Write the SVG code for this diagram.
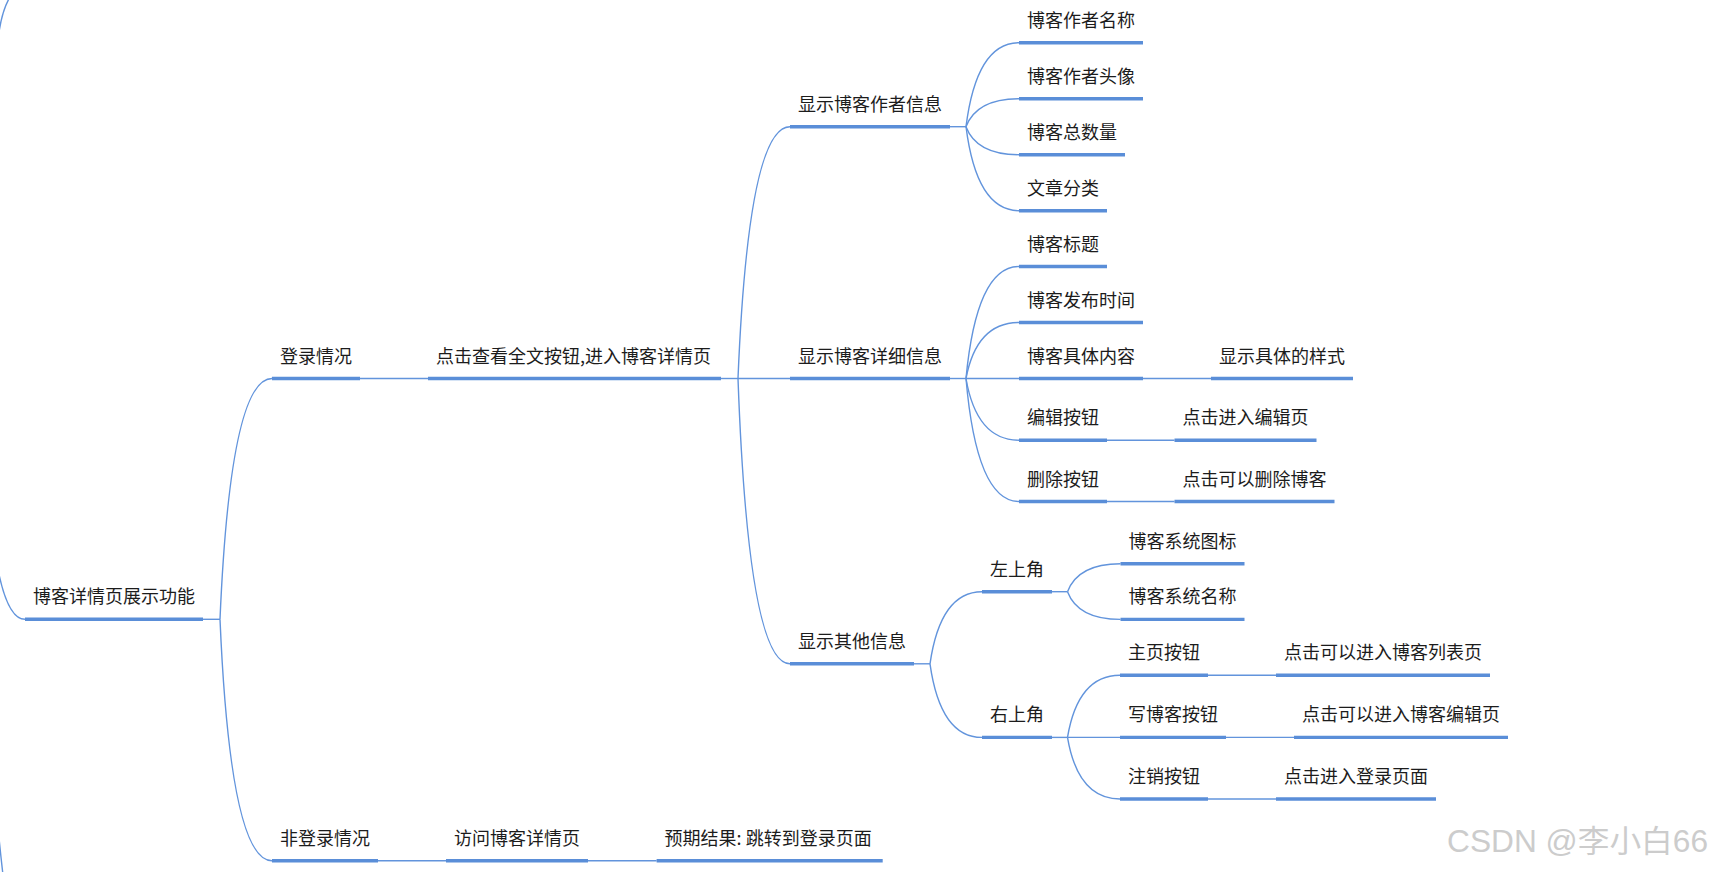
<svg xmlns="http://www.w3.org/2000/svg" width="1713" height="872" viewBox="0 0 1713 872">
<style>
  .bg{fill:#ffffff}
  .t{font-family:"Noto Sans CJK SC","Liberation Sans",sans-serif;font-size:18px;fill:#1c1c1c}
  .u{stroke:#5a8ed8;stroke-width:3.4;fill:none}
  .c{stroke:#6294dc;stroke-width:1.4;fill:none}
  .wm{font-family:"Liberation Sans","Noto Sans CJK SC",sans-serif;font-size:31px;fill:#cccccc}
</style>
<rect class="bg" x="0" y="0" width="1713" height="872"/>
<g id="connectors">
  <path class="c" d="M-6,545 Q4,619 25,619.3"/>
  <path class="c" d="M-2,40 Q1,12 10,-3"/>
  <path class="c" d="M-1,838 Q1,858 3,875"/>
  <path class="c" d="M203,619.3 H220"/>
  <path class="c" d="M220,619.3 Q230.4,378.5 272,378.5"/>
  <path class="c" d="M220,619.3 Q230.4,860.7 272,860.7"/>
  <path class="c" d="M360,378.5 H428"/>
  <path class="c" d="M721,378.5 H738"/>
  <path class="c" d="M378,860.7 H446"/>
  <path class="c" d="M588,860.7 H656.6"/>
  <path class="c" d="M738,378.5 Q748.4,126.7 790,126.7"/>
  <path class="c" d="M738,378.5 H790"/>
  <path class="c" d="M738,378.5 Q748.4,663.8 790,663.8"/>
  <path class="c" d="M950,126.7 H966"/>
  <path class="c" d="M966,126.7 Q976.6,42.7 1019,42.7"/>
  <path class="c" d="M966,126.7 Q976.6,98.7 1019,98.7"/>
  <path class="c" d="M966,126.7 Q976.6,154.7 1019,154.7"/>
  <path class="c" d="M966,126.7 Q976.6,210.7 1019,210.7"/>
  <path class="c" d="M950,378.5 H966"/>
  <path class="c" d="M966,378.5 Q976.6,266.5 1019,266.5"/>
  <path class="c" d="M966,378.5 Q976.6,322.5 1019,322.5"/>
  <path class="c" d="M966,378.5 H1019"/>
  <path class="c" d="M966,378.5 Q976.6,440.2 1019,440.2"/>
  <path class="c" d="M966,378.5 Q976.6,501.5 1019,501.5"/>
  <path class="c" d="M1143,378.5 H1211"/>
  <path class="c" d="M1107,440.2 H1174.5"/>
  <path class="c" d="M1107,501.5 H1174.5"/>
  <path class="c" d="M914,663.8 H930"/>
  <path class="c" d="M930,663.8 Q940.4,591.7 982,591.7"/>
  <path class="c" d="M930,663.8 Q940.4,737.4 982,737.4"/>
  <path class="c" d="M1052,591.7 H1067.5"/>
  <path class="c" d="M1067.5,591.7 Q1078.1,563.7 1120.5,563.7"/>
  <path class="c" d="M1067.5,591.7 Q1078.1,619.4 1120.5,619.4"/>
  <path class="c" d="M1052,737.4 H1067.5"/>
  <path class="c" d="M1067.5,737.4 Q1078,675.3 1120,675.3"/>
  <path class="c" d="M1067.5,737.4 H1120"/>
  <path class="c" d="M1067.5,737.4 Q1078,799 1120,799"/>
  <path class="c" d="M1208,675.3 H1276"/>
  <path class="c" d="M1226,737.4 H1294"/>
  <path class="c" d="M1208,799 H1276"/>
</g>
<g id="root"><text class="t" x="33" y="603.3">博客详情页展示功能</text><path class="u" d="M25,619.3 H203"/></g>
<g id="n-login"><text class="t" x="280" y="362.5">登录情况</text><path class="u" d="M272,378.5 H360"/></g>
<g id="n-click"><text class="t" x="436" y="362.5">点击查看全文按钮,进入博客详情页</text><path class="u" d="M428,378.5 H721"/></g>
<g id="n-nologin"><text class="t" x="280" y="844.7">非登录情况</text><path class="u" d="M272,860.7 H378"/></g>
<g id="n-visit"><text class="t" x="454" y="844.7">访问博客详情页</text><path class="u" d="M446,860.7 H588"/></g>
<g id="n-expect"><text class="t" x="664.6" y="844.7">预期结果: 跳转到登录页面</text><path class="u" d="M656.6,860.7 H882.7"/></g>
<g id="n-author"><text class="t" x="798" y="110.7">显示博客作者信息</text><path class="u" d="M790,126.7 H950"/></g>
<g id="n-detail"><text class="t" x="798" y="362.5">显示博客详细信息</text><path class="u" d="M790,378.5 H950"/></g>
<g id="n-other"><text class="t" x="798" y="647.8">显示其他信息</text><path class="u" d="M790,663.8 H914"/></g>
<g id="n-a1"><text class="t" x="1027" y="26.7">博客作者名称</text><path class="u" d="M1019,42.7 H1143"/></g>
<g id="n-a2"><text class="t" x="1027" y="82.7">博客作者头像</text><path class="u" d="M1019,98.7 H1143"/></g>
<g id="n-a3"><text class="t" x="1027" y="138.7">博客总数量</text><path class="u" d="M1019,154.7 H1125"/></g>
<g id="n-a4"><text class="t" x="1027" y="194.7">文章分类</text><path class="u" d="M1019,210.7 H1107"/></g>
<g id="n-d1"><text class="t" x="1027" y="250.5">博客标题</text><path class="u" d="M1019,266.5 H1107"/></g>
<g id="n-d2"><text class="t" x="1027" y="306.5">博客发布时间</text><path class="u" d="M1019,322.5 H1143"/></g>
<g id="n-d3"><text class="t" x="1027" y="362.5">博客具体内容</text><path class="u" d="M1019,378.5 H1143"/></g>
<g id="n-d3a"><text class="t" x="1219" y="362.5">显示具体的样式</text><path class="u" d="M1211,378.5 H1353"/></g>
<g id="n-d4"><text class="t" x="1027" y="424.2">编辑按钮</text><path class="u" d="M1019,440.2 H1107"/></g>
<g id="n-d4a"><text class="t" x="1182.5" y="424.2">点击进入编辑页</text><path class="u" d="M1174.5,440.2 H1316.5"/></g>
<g id="n-d5"><text class="t" x="1027" y="485.5">删除按钮</text><path class="u" d="M1019,501.5 H1107"/></g>
<g id="n-d5a"><text class="t" x="1182.5" y="485.5">点击可以删除博客</text><path class="u" d="M1174.5,501.5 H1334.5"/></g>
<g id="n-tl"><text class="t" x="990" y="575.7">左上角</text><path class="u" d="M982,591.7 H1052"/></g>
<g id="n-tr"><text class="t" x="990" y="721.4">右上角</text><path class="u" d="M982,737.4 H1052"/></g>
<g id="n-tl1"><text class="t" x="1128.5" y="547.7">博客系统图标</text><path class="u" d="M1120.5,563.7 H1244.5"/></g>
<g id="n-tl2"><text class="t" x="1128.5" y="603.4">博客系统名称</text><path class="u" d="M1120.5,619.4 H1244.5"/></g>
<g id="n-tr1"><text class="t" x="1128" y="659.3">主页按钮</text><path class="u" d="M1120,675.3 H1208"/></g>
<g id="n-tr1a"><text class="t" x="1284" y="659.3">点击可以进入博客列表页</text><path class="u" d="M1276,675.3 H1490"/></g>
<g id="n-tr2"><text class="t" x="1128" y="721.4">写博客按钮</text><path class="u" d="M1120,737.4 H1226"/></g>
<g id="n-tr2a"><text class="t" x="1302" y="721.4">点击可以进入博客编辑页</text><path class="u" d="M1294,737.4 H1508"/></g>
<g id="n-tr3"><text class="t" x="1128" y="783">注销按钮</text><path class="u" d="M1120,799 H1208"/></g>
<g id="n-tr3a"><text class="t" x="1284" y="783">点击进入登录页面</text><path class="u" d="M1276,799 H1436"/></g>
<text class="wm" x="1447" y="851.5" textLength="261" lengthAdjust="spacingAndGlyphs">CSDN @李小白66</text>
</svg>
